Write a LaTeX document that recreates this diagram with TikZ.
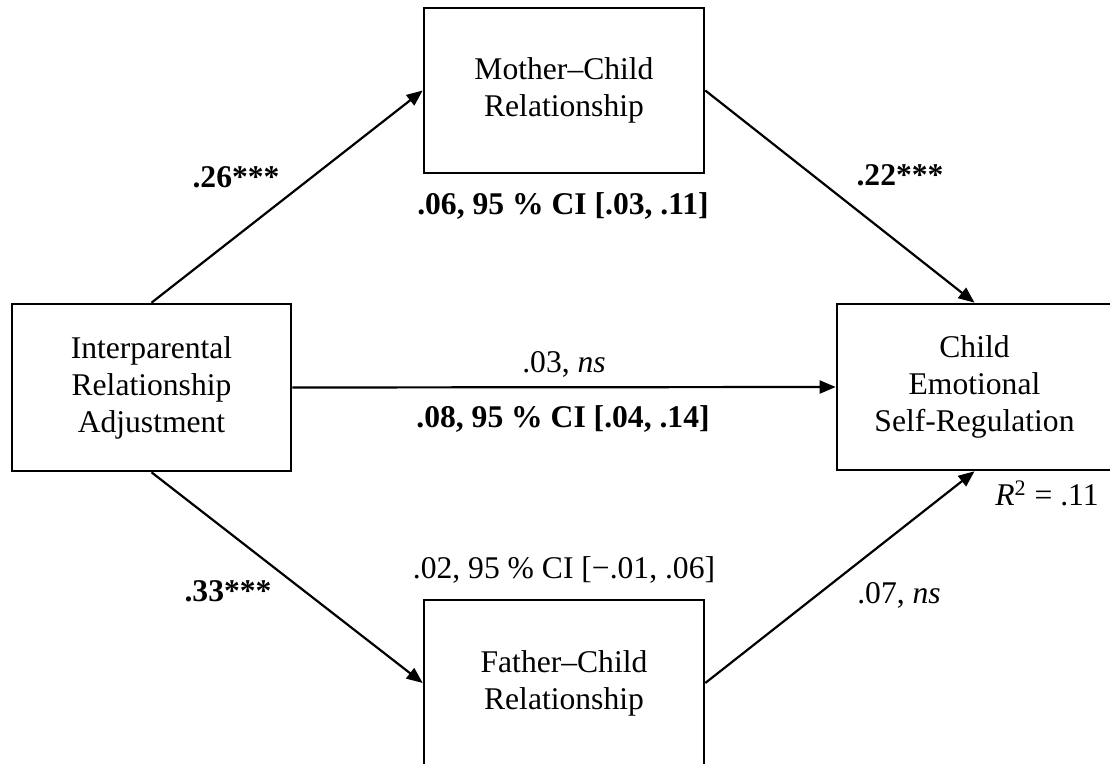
\documentclass[tikz,border=0pt]{standalone}
\usepackage{fontspec}
\setmainfont{Liberation Serif}
\usepackage{tikz}
\usetikzlibrary{arrows.meta}
\newcommand\lblfont{\fontsize{15.8}{18.5}\selectfont}
\tikzset{
  wire/.style={line width=1.1pt, -{Triangle[length=8pt,width=6.5pt]}},
  box/.style={draw, line width=1.3pt, fill=white, align=center, inner sep=0pt, font=\lblfont},
  coef/.style={anchor=base, inner sep=0pt, font=\lblfont\bfseries},
  est/.style={anchor=base, inner sep=0pt, font=\lblfont}
}
\begin{document}
\begin{tikzpicture}[x=0.5pt,y=-0.5pt]
  \useasboundingbox (0,0) rectangle (1110,764);
  \clip (0,0) rectangle (1110,764);
  \node[box, minimum width=139.5pt, minimum height=83.5pt] (ipa) at (151.5,387.5) {Interparental\\Relationship\\Adjustment};
  \node[box, minimum width=140pt, minimum height=82.5pt] (mcr) at (564,90.5) {Mother–Child\\Relationship};
  \node[box, minimum width=140pt, minimum height=83pt] (fcr) at (564,683) {Father–Child\\Relationship};
  \node[box, minimum width=137.5pt, minimum height=83pt] (ces) at (974.5,387) {Child\\Emotional\\Self-Regulation};
  \draw[wire] (ipa.north) -- (mcr.west);
  \draw[wire] (mcr.east) -- (ces.north);
  \draw[wire] (ipa.east) -- (ces.west);
  \draw[wire] (ipa.south) -- (fcr.west);
  \draw[wire] (fcr.east) -- (ces.south);
  \node[coef] (a1) at (236,188) {.26***};
  \node[coef] (b1) at (900,186) {.22***};
  \node[coef] (ind1) at (563,215) {.06, 95 \% CI [.03, .11]};
  \node[est] (cdir) at (564,373) {.03, \textit{ns}};
  \node[coef] (tot) at (563,428) {.08, 95 \% CI [.04, .14]};
  \node[coef] (a2) at (228,602) {.33***};
  \node[est] (ind2) at (564,579) {.02, 95 \% CI [−.01, .06]};
  \node[est] (b2) at (899,604) {.07, \textit{ns}};
  \node[est] (rsq) at (1047,506) {\textit{R}\textsuperscript{2} = .11};
\end{tikzpicture}
\end{document}
